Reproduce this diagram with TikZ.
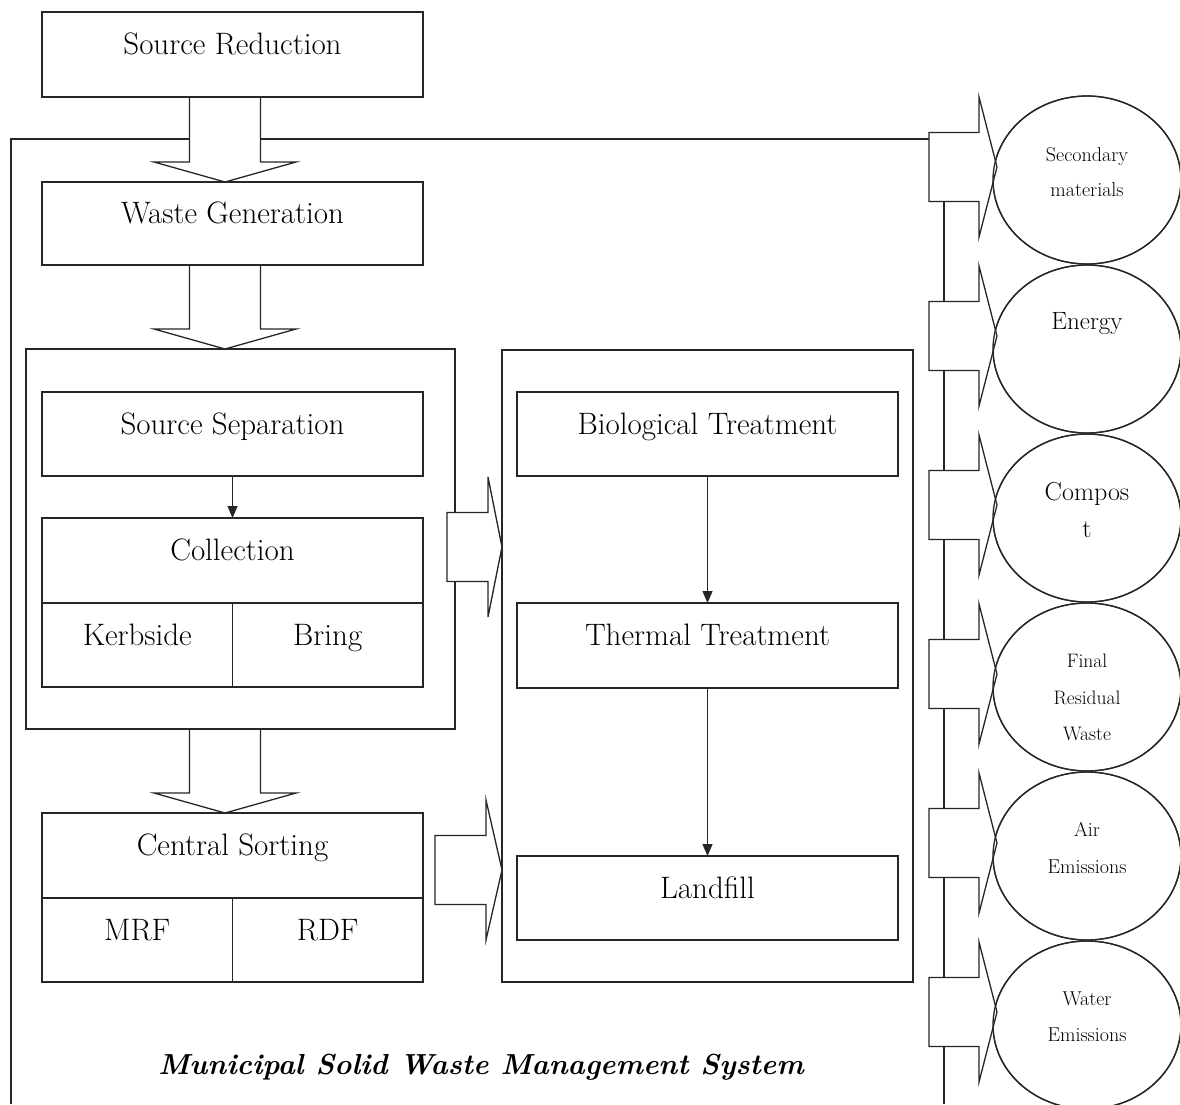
\documentclass[tikz,border=0pt]{standalone}
\usetikzlibrary{shapes.geometric,calc,arrows.meta}
\pgfdeclarelayer{frame}
\pgfdeclarelayer{under}
\pgfsetlayers{frame,under,main}

% hollow block arrow pointing down, from the bottom of #1 to the top of #2
\newcommand{\downblock}[2]{%
  \draw[blockarrow] let \p1=(axis |- #1.south), \p2=(axis |- #2.north) in
    (\x1-35.5pt,\y1) -- (\x1-35.5pt,\y2+20pt) -- (\x1-71pt,\y2+20pt) -- (\x2,\y2)
    -- (\x1+71pt,\y2+20pt) -- (\x1+35.5pt,\y2+20pt) -- (\x1+35.5pt,\y1);}

% hollow block arrow pointing right: #1 tip, #2 head length, #3 overall length
\newcommand{\rightblock}[3]{%
  \draw[blockarrow] let \p1=(#1) in
    (\x1-#3pt,\y1-34.5pt) -- (\x1-#2pt,\y1-34.5pt) -- (\x1-#2pt,\y1-70pt) -- (\x1,\y1)
    -- (\x1-#2pt,\y1+70pt) -- (\x1-#2pt,\y1+34.5pt) -- (\x1-#3pt,\y1+34.5pt) -- cycle;}

\begin{document}
\begin{tikzpicture}[x=1pt,y=-1pt,
  every node/.style={inner sep=0pt,outer sep=0pt},
  ink/.style={line width=1.3pt,draw=black!85},
  box/.style={rectangle,ink,fill=white,minimum width=381pt,minimum height=84pt,
    text height=10pt,text depth=10pt,font=\fontsize{31}{36}\selectfont},
  half/.style={box,minimum width=190.5pt},
  container/.style={rectangle,ink,fill=white},
  outcome/.style={ellipse,ink,minimum width=188pt,minimum height=168pt},
  otext/.style={anchor=north,align=center},
  blockarrow/.style={ink,fill=white,line join=miter},
  flow/.style={ink,-{Triangle[length=12pt,width=10pt]}}]

\useasboundingbox (0,0) rectangle (1180,1104);
\coordinate (axis) at (225,0);

% left column
\node[box,minimum height=85pt] (sr) at (232.5,54.5) {Source Reduction};
\node[box,minimum height=83pt] (wg) at (232.5,223.5) {Waste Generation};

\node[container,minimum width=429pt,minimum height=380pt] (leftc) at (240.5,539) {};
\node[box] (ss) at (232.5,434) {Source Separation};
\node[box,minimum height=85pt] (col) at (232.5,560.5) {Collection};
\node[half] (kerb) at (137.25,645) {Kerbside};
\node[half] (bring) at (327.75,645) {Bring};

\node[box,minimum height=85pt] (cs) at (232.5,855.5) {Central Sorting};
\node[half] (mrf) at (137.25,940) {MRF};
\node[half] (rdf) at (327.75,940) {RDF};

% treatment column
\node[container,minimum width=411pt,minimum height=632pt] (midc) at (707.5,666) {};
\node[box] (bio) at (707.5,434) {Biological Treatment};
\node[box,minimum height=85pt] (thermal) at (707.5,645.5) {Thermal Treatment};
\node[box] (landfill) at (707.5,898) {Landfill};

\draw[flow] (ss.south) -- (col.north);
\draw[flow] (bio.south) -- (thermal.north);
\draw[flow] (thermal.south) -- (landfill.north);

% outputs
\node[outcome] (sec) at (1087,180) {};
\node[outcome] (energy) at (1087,349) {};
\node[outcome] (compost) at (1087,518) {};
\node[outcome] (resid) at (1087,687) {};
\node[outcome] (air) at (1087,856) {};
\node[outcome] (water) at (1087,1025) {};

% feedback loop round the whole system
\coordinate (loopBL) at (11,1104);
\coordinate (loopTL) at (11,139);
\coordinate (loopTR) at (944,139);
\coordinate (loopBR) at (944,1104);
\begin{pgfonlayer}{frame}
  \fill[white] (0,0) rectangle (1180,1104);
  \draw[ink] (loopBL) -- (loopTL) -- (loopTR) -- (loopBR);
\end{pgfonlayer}

\begin{pgfonlayer}{under}
  \downblock{sr}{wg}
  \downblock{wg}{leftc}
  \downblock{leftc}{cs}
\end{pgfonlayer}

\rightblock{midc.west |- 0,547}{14}{55}
\rightblock{midc.west |- 0,870}{16}{67}
\foreach \e in {sec,energy,compost,resid,air,water}{
  \rightblock{$(\e.west)+(4,-13)$}{18}{68}
}
\foreach \e in {sec,energy,compost,resid,air,water}{
  \draw[ink] (\e.center) ellipse (94pt and 84pt);
}

\node[otext,font=\fontsize{20}{35}\selectfont] (secT) at ($(sec.north)+(0,52)$) {Secondary\\materials};
\node[otext,font=\fontsize{25}{36}\selectfont] (energyT) at ($(energy.north)+(0,47)$) {Energy};
\node[otext,font=\fontsize{26}{37}\selectfont] (compostT) at ($(compost.north)+(0,48)$) {Compos\\t};
\node[otext,font=\fontsize{19.5}{36.5}\selectfont] (residT) at ($(resid.north)+(0,51)$) {Final\\Residual\\Waste};
\node[otext,font=\fontsize{20}{37}\selectfont] (airT) at ($(air.north)+(0,50)$) {Air\\Emissions};
\node[otext,font=\fontsize{20}{36}\selectfont] (waterT) at ($(water.north)+(0,51)$) {Water\\Emissions};

\node[font=\fontsize{29}{34}\selectfont\bfseries\itshape] (title) at (481,1067)
  {Municipal Solid Waste Management System};
\end{tikzpicture}
\end{document}
